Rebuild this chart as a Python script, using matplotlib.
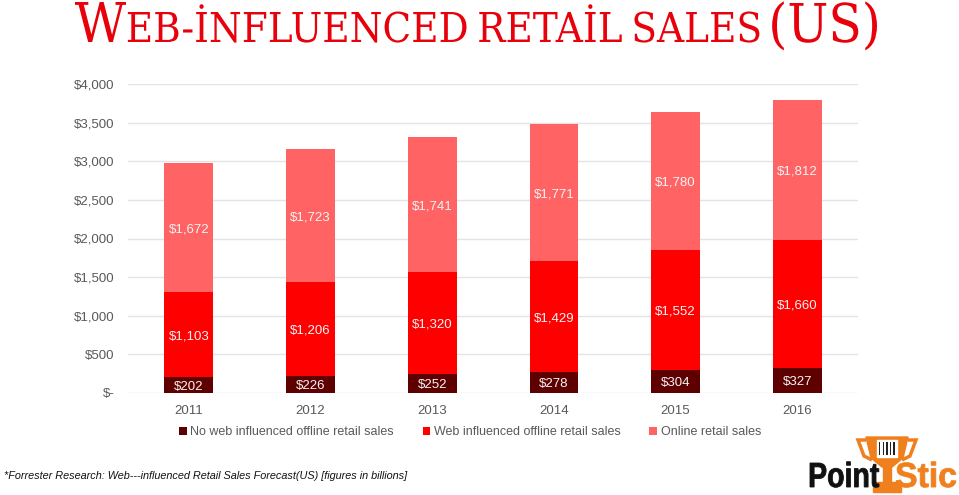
import numpy as np
import matplotlib
matplotlib.use('Agg')
import matplotlib.pyplot as plt
from matplotlib.patches import Polygon, Rectangle, PathPatch
from matplotlib.textpath import TextPath
from matplotlib.font_manager import FontProperties
from matplotlib.transforms import Affine2D, IdentityTransform

years = ['2011', '2012', '2013', '2014', '2015', '2016']
no_web = [202, 226, 252, 278, 304, 327]
web_offline = [1103, 1206, 1320, 1429, 1552, 1660]
online = [1672, 1723, 1741, 1771, 1780, 1812]
series_names = ['No web influenced offline retail sales',
                'Web influenced offline retail sales',
                'Online retail sales']
colors = ['#5e0000', '#ff0000', '#ff6363']
yticks = [0, 500, 1000, 1500, 2000, 2500, 3000, 3500, 4000]
ytick_labels = ['$-', '$500', '$1,000', '$1,500', '$2,000', '$2,500', '$3,000', '$3,500', '$4,000']

plt.rcParams['font.family'] = ['Liberation Sans', 'DejaVu Sans']
fig = plt.figure(figsize=(9.59, 4.95), dpi=100)
W, H = 959, 495
ax = fig.add_axes([128/W, 1-393/H, 730/W, 309/H])

x = np.arange(len(years))
w = 0.40
bottom = np.zeros(len(years))
for vals, c, name in zip([no_web, web_offline, online], colors, series_names):
    vals = np.array(vals, dtype=float)
    ax.bar(x, vals, w, bottom=bottom, color=c, label=name, zorder=3)
    for xi, b, v in zip(x, bottom, vals):
        ax.text(xi, b + v/2 - 25, '${:,}'.format(int(v)), ha='center', va='center',
                fontsize=9.5, color='#f4f4f4', zorder=4)
    bottom = bottom + vals

ax.set_xlim(-0.5, 5.5)
ax.set_ylim(0, 4000)
ax.set_yticks(yticks)
ax.set_yticklabels(ytick_labels)
ax.set_xticks(x)
ax.set_xticklabels(years)
ax.tick_params(length=0, colors='#595959', labelsize=9.5)
ax.tick_params(axis='y', pad=9.5)
ax.tick_params(axis='x', pad=8.5)
ax.grid(axis='y', color='#e4e4e4', linewidth=1, zorder=0)
for s in ax.spines.values():
    s.set_visible(False)

fig.legend(loc='center', bbox_to_anchor=(470/W, 1-432/H), ncol=3, frameon=False,
           handlelength=0.6, handleheight=0.6, handletextpad=0.3, columnspacing=2.3,
           fontsize=9, labelcolor='#595959')

# title: fake small caps with scaled text paths (pixel coords)
fp = FontProperties(family='DejaVu Serif')
cap = TextPath((0, 0), 'E', size=100, prop=fp).get_extents().height
items = [('W', 40, 0), ('EB-İNFLUENCED', 30, 2), ('RETAİL', 30, 14), ('SALES', 30, 14), ('(US)', 39, 14)]
placed = []
cur = 0
for s, h, gap in items:
    tp = TextPath((0, 0), s, size=100, prop=fp)
    k = h / cap
    ext = tp.get_extents()
    cur += gap
    placed.append((tp, k, cur - ext.x0 * k))
    cur += ext.width * k
sx = (877 - 75) / cur
for tp, k, off in placed:
    tr = Affine2D().scale(k * sx, k).translate(75 + off * sx, H - 42)
    fig.add_artist(PathPatch(tr.transform_path(tp), facecolor='#e8000b', lw=0,
                             transform=IdentityTransform()))

fig.text(4/W, 1-476/H, '*Forrester Research: Web---influenced Retail Sales Forecast(US) [figures in billions]',
         fontsize=7.8, style='italic', color='#111111', va='center')

# logo
orange = '#f0801e'
def px(a, b):
    return (a/W, 1-b/H)

def boxed_text(s, x0, x1, top, base, color):
    tp = TextPath((0, 0), s, size=100, prop=FontProperties(family='Liberation Sans', weight='bold'))
    e = tp.get_extents()
    tr = (Affine2D().translate(-e.x0, 0)
          .scale((x1 - x0) / e.width, (base - top) / TextPath((0, 0), 'P', size=100,
                 prop=FontProperties(family='Liberation Sans', weight='bold')).get_extents().height)
          .translate(x0, H - base))
    fig.add_artist(PathPatch(tr.transform_path(tp), facecolor=color, edgecolor=color, lw=0.6,
                             transform=IdentityTransform()))

cup = Polygon([px(866, 437), px(908, 437), px(903, 458), px(892, 467), px(882, 467), px(871, 458)],
              closed=True, transform=fig.transFigure, color=orange)
fig.add_artist(cup)
fig.add_artist(Polygon([px(866, 440), px(858, 440), px(864, 456), px(872, 460)], closed=False,
                       fill=False, edgecolor=orange, lw=2.5, transform=fig.transFigure))
fig.add_artist(Polygon([px(908, 440), px(916, 440), px(910, 456), px(902, 460)], closed=False,
                       fill=False, edgecolor=orange, lw=2.5, transform=fig.transFigure))
fig.add_artist(Rectangle(px(883, 482), 8/W, 16/H, transform=fig.transFigure, color=orange))
fig.add_artist(Rectangle(px(873, 492), 28/W, 10/H, transform=fig.transFigure, color=orange))
fig.add_artist(Rectangle(px(877, 457), 20/W, 17/H, transform=fig.transFigure, color='white'))
for i in range(5):
    fig.add_artist(Rectangle(px(879 + i*3.6, 455), 1.4/W, 13/H, transform=fig.transFigure,
                             color='#222222', lw=0))
boxed_text('Point', 810, 879, 463, 487, '#111111')
boxed_text('Stic', 896, 956, 463, 487, orange)

fig.savefig('out.png', dpi=100)
